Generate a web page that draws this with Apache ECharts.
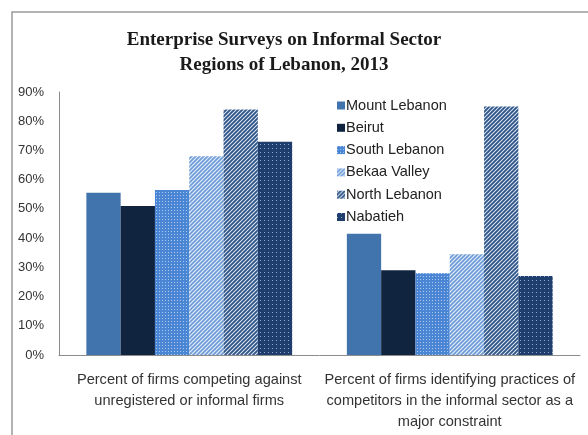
<!DOCTYPE html>
<html>
<head>
<meta charset="utf-8">
<script src="https://cdn.jsdelivr.net/npm/echarts@6/dist/echarts.min.js"></script>
<style>
  html, body { margin: 0; padding: 0; background: #fff; }
  #chart { width: 588px; height: 435px; }
</style>
</head>
<body>
<div id="chart"></div>
<script>
// categories and values (percent)
var categories = [
  "Percent of firms competing against\nunregistered or informal firms",
  "Percent of firms identifying practices of\ncompetitors in the informal sector as a\nmajor constraint"
];
var regions = ["Mount Lebanon", "Beirut", "South Lebanon", "Bekaa Valley", "North Lebanon", "Nabatieh"];
var mountLebanon = [55.5, 41.5];
var beirut = [51, 29];
var southLebanon = [56.5, 28];
var bekaaValley = [68, 34.5];
var northLebanon = [84, 85];
var nabatieh = [73, 27];
var yTicks = [0, 10, 20, 30, 40, 50, 60, 70, 80, 90];

// small canvas tiles for the fill patterns
function dots(bg, fg, step, size) {
  var c = document.createElement("canvas");
  c.width = step; c.height = step;
  var ctx = c.getContext("2d");
  ctx.fillStyle = bg;
  ctx.fillRect(0, 0, step, step);
  ctx.fillStyle = fg;
  ctx.fillRect(0, 0, size, size);
  return { image: c, repeat: "repeat" };
}
function stripes(bg, fg, step, lw) {
  var c = document.createElement("canvas");
  c.width = step; c.height = step;
  var ctx = c.getContext("2d");
  ctx.fillStyle = bg;
  ctx.fillRect(0, 0, step, step);
  ctx.strokeStyle = fg;
  ctx.lineWidth = lw;
  ctx.beginPath();
  ctx.moveTo(-1, step + 1); ctx.lineTo(step + 1, -1);
  ctx.moveTo(-1, 1); ctx.lineTo(1, -1);
  ctx.moveTo(step - 1, step + 1); ctx.lineTo(step + 1, step - 1);
  ctx.stroke();
  return { image: c, repeat: "repeat" };
}

var fills = [
  "#4173ad",
  "#10243f",
  dots("#4b86d4", "#a9c8ee", 3, 1),
  stripes("#e4eefa", "#6b9ad6", 4, 1.6),
  stripes("#dfe7f2", "#2d5487", 4, 1.8),
  dots("#1f3e6d", "#8ea9cb", 4, 1)
];
var values = [mountLebanon, beirut, southLebanon, bekaaValley, northLebanon, nabatieh];

var chartDom = document.getElementById("chart");
var myChart = echarts.init(chartDom);

var series = regions.map(function (name, i) {
  return {
    name: name,
    type: "bar",
    data: values[i],
    barGap: "0%",
    barCategoryGap: "21%",
    itemStyle: { color: fills[i] }
  };
});

var option = {
  animation: false,
  title: {
    text: "Enterprise Surveys on Informal Sector\nRegions of Lebanon, 2013",
    left: 279,
    textAlign: "center",
    top: 23,
    textStyle: {
      fontFamily: "Liberation Serif",
      fontWeight: "bold",
      fontSize: 19,
      lineHeight: 25,
      color: "#1a1a1a"
    }
  },
  legend: {
    orient: "vertical",
    left: 332,
    top: 93,
    itemWidth: 8,
    itemHeight: 8,
    itemGap: 7.3,
    icon: "rect",
    textStyle: {
      fontFamily: "Liberation Sans",
      fontSize: 14.5,
      color: "#222",
      padding: [0, 0, 0, -4]
    },
    data: regions
  },
  grid: {
    left: 59,
    right: 8,
    top: 92,
    bottom: 80
  },
  xAxis: {
    type: "category",
    data: categories,
    axisTick: { show: false },
    axisLine: { lineStyle: { color: "#8c8c8c", width: 1 } },
    axisLabel: {
      interval: 0,
      margin: 14,
      fontFamily: "Liberation Sans",
      fontSize: 14.6,
      lineHeight: 21,
      color: "#333"
    }
  },
  yAxis: {
    type: "value",
    min: 0,
    max: 90,
    interval: 10,
    splitLine: { show: false },
    axisTick: { show: false },
    axisLine: { show: true, lineStyle: { color: "#8c8c8c", width: 1 } },
    axisLabel: {
      margin: 15,
      fontFamily: "Liberation Sans",
      fontSize: 13,
      color: "#333",
      formatter: function (v) { return yTicks.indexOf(v) >= 0 ? v + "%" : ""; }
    }
  },
  graphic: [
    {
      type: "rect",
      shape: { x: 12, y: 12, width: 600, height: 450 },
      style: { fill: "none", stroke: "#9a9a9a", lineWidth: 1.5 },
      silent: true
    }
  ],
  series: series
};

option && myChart.setOption(option, true);
</script>
</body>
</html>
